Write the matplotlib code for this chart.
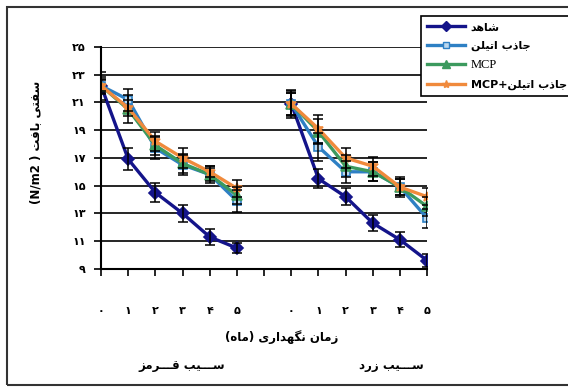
import numpy as np
import matplotlib.pyplot as plt
from matplotlib.lines import Line2D
from matplotlib.patches import Rectangle

# --- Persian text helper (matplotlib does no Arabic shaping) ---
FORMS = {
    'ا': ('\uFE8D', '\uFE8E', None, None),
    'ب': ('\uFE8F', '\uFE90', '\uFE91', '\uFE92'),
    'ت': ('\uFE95', '\uFE96', '\uFE97', '\uFE98'),
    'ج': ('\uFE9D', '\uFE9E', '\uFE9F', '\uFEA0'),
    'د': ('\uFEA9', '\uFEAA', None, None),
    'ذ': ('\uFEAB', '\uFEAC', None, None),
    'ر': ('\uFEAD', '\uFEAE', None, None),
    'ز': ('\uFEAF', '\uFEB0', None, None),
    'س': ('\uFEB1', '\uFEB2', '\uFEB3', '\uFEB4'),
    'ش': ('\uFEB5', '\uFEB6', '\uFEB7', '\uFEB8'),
    'ف': ('\uFED1', '\uFED2', '\uFED3', '\uFED4'),
    'ق': ('\uFED5', '\uFED6', '\uFED7', '\uFED8'),
    'ل': ('\uFEDD', '\uFEDE', '\uFEDF', '\uFEE0'),
    'م': ('\uFEE1', '\uFEE2', '\uFEE3', '\uFEE4'),
    'ن': ('\uFEE5', '\uFEE6', '\uFEE7', '\uFEE8'),
    'ه': ('\uFEE9', '\uFEEA', '\uFEEB', '\uFEEC'),
    'ی': ('\uFBFC', '\uFBFD', '\uFBFE', '\uFBFF'),
    'گ': ('\uFB92', '\uFB93', '\uFB94', '\uFB95'),
    'ـ': ('\u0640', '\u0640', '\u0640', '\u0640'),
}


def fa(text):
    out = []
    for i, c in enumerate(text):
        if c not in FORMS:
            out.append(c)
            continue
        prev = text[i - 1] if i > 0 else None
        nxt = text[i + 1] if i + 1 < len(text) else None
        jp = prev in FORMS and FORMS[prev][2] is not None
        jn = FORMS[c][2] is not None and nxt in FORMS
        f = FORMS[c]
        if jp and jn:
            out.append(f[3])
        elif jp:
            out.append(f[1])
        elif jn:
            out.append(f[2])
        else:
            out.append(f[0])
    vis = ''.join(reversed(out))
    return vis.translate(str.maketrans('()', ')('))


def fa_num(s):
    return str(s).translate(str.maketrans('0123456789', '۰۱۲۳۴۵۶۷۸۹'))


# --- data ---
months = [0, 1, 2, 3, 4, 5]
apples = ['ســـیب قـــرمز', 'ســـیب زرد']
series_names = ['شاهد', 'جاذب اتیلن', 'MCP', 'MCP+جاذب اتیلن']

# red apple
red_control = [22.2, 16.9, 14.5, 13.0, 11.3, 10.5]
red_absorb = [22.2, 21.2, 17.7, 16.5, 15.8, 13.9]
red_mcp = [22.2, 20.5, 17.9, 16.6, 15.8, 14.3]
red_both = [22.2, 20.6, 18.2, 17.0, 16.0, 14.8]
red_control_err = [1.0, 0.8, 0.7, 0.6, 0.55, 0.35]
red_absorb_err = [0.6, 0.8, 0.8, 0.7, 0.5, 0.8]
red_mcp_err = [0.5, 1.0, 0.7, 0.7, 0.6, 0.6]
red_both_err = [0.4, 0.6, 0.7, 0.7, 0.4, 0.6]

# yellow apple
yel_control = [20.9, 15.5, 14.2, 12.3, 11.1, 9.6]
yel_absorb = [20.9, 17.8, 16.0, 16.0, 14.9, 12.65]
yel_mcp = [20.9, 18.9, 16.4, 16.0, 14.9, 13.5]
yel_both = [20.9, 19.1, 17.0, 16.4, 14.9, 14.2]
yel_control_err = [1.0, 0.7, 0.6, 0.55, 0.55, 0.5]
yel_absorb_err = [0.8, 1.0, 0.8, 0.7, 0.7, 0.7]
yel_mcp_err = [0.8, 0.9, 0.8, 0.7, 0.6, 0.7]
yel_both_err = [0.9, 1.0, 0.7, 0.7, 0.6, 0.6]

yticks = [9, 11, 13, 15, 17, 19, 21, 23, 25]

colors = ['#14148a', '#2e80c4', '#3c9a5e', '#f08a3c']
markers = ['D', 's', '^', '*']
msizes = [6, 6, 7, 7]
mfaces = ['#14148a', '#bcd8ee', '#3c9a5e', '#f08a3c']

groups = [
    ([red_control, red_absorb, red_mcp, red_both],
     [red_control_err, red_absorb_err, red_mcp_err, red_both_err]),
    ([yel_control, yel_absorb, yel_mcp, yel_both],
     [yel_control_err, yel_absorb_err, yel_mcp_err, yel_both_err]),
]

plt.rcParams['font.family'] = ['DejaVu Sans']

fig = plt.figure(figsize=(5.68, 3.88), dpi=100)
ax = fig.add_axes([0.178, 0.307, 0.574, 0.572])

for g, (vals, errs) in enumerate(groups):
    x = np.arange(len(months)) + g * (len(months) + 1)
    for k in range(4):
        ax.plot(x, vals[k], color=colors[k], lw=2.4, marker=markers[k], ms=msizes[k],
                mfc=mfaces[k], mec=colors[k], mew=1.2, zorder=3 + k * 0.1)
        ax.errorbar(x, vals[k], yerr=errs[k], fmt='none', ecolor='black',
                    elinewidth=1.1, capsize=3.8, capthick=1.1, zorder=4)

ax.set_xlim(0, 2 * len(months))
ax.set_ylim(9, 25)

xlabels = [fa_num(m) for m in months] + [''] + [fa_num(m) for m in months]
ax.set_xticks(range(len(xlabels)))
ax.set_xticklabels(xlabels, fontsize=8, fontweight='bold')
ax.set_yticks(yticks)
ax.set_yticklabels([fa_num(v) for v in yticks], fontsize=8, fontweight='bold')
ax.tick_params(axis='x', direction='out', length=5, width=1.2, pad=22)
ax.tick_params(axis='y', direction='out', length=5, width=1.2, pad=6)

ax.grid(axis='y', color='black', lw=1.2)
ax.set_axisbelow(True)
for s in ['top', 'right']:
    ax.spines[s].set_visible(False)
for s in ['left', 'bottom']:
    ax.spines[s].set_linewidth(1.5)

# labels
fig.text(282 / 568, 1 - 337 / 388, fa('زمان نگهداری (ماه)'), ha='center', va='center',
         fontsize=8.5, fontweight='bold')
fig.text(182 / 568, 1 - 365 / 388, fa(apples[0]), ha='center', va='center',
         fontsize=8.5, fontweight='bold')
fig.text(391 / 568, 1 - 366 / 388, fa(apples[1]), ha='center', va='center',
         fontsize=8.5, fontweight='bold')
fig.text(36 / 568, 1 - 142 / 388, '(N/m2 ) ' + fa('سفتی بافت'), rotation=90,
         ha='center', va='center', fontsize=8.5, fontweight='bold')

# outer border
fig.patches.append(Rectangle((7 / 568, 3 / 388), 1.1, 1 - 10 / 388,
                             transform=fig.transFigure, fill=False,
                             edgecolor='#333333', lw=1.5, zorder=0))

# legend
handles = [Line2D([], [], color=colors[k], lw=2.4, marker=markers[k], ms=msizes[k] - 1,
                  mfc=mfaces[k], mec=colors[k]) for k in range(4)]
labels = [fa(series_names[0]), fa(series_names[1]), series_names[2],
          'MCP+' + fa('جاذب اتیلن')]
leg = fig.legend(handles, labels, loc='upper left',
                 bbox_to_anchor=(415 / 568, 1 - 10 / 388), bbox_transform=fig.transFigure,
                 fancybox=False, edgecolor='black', framealpha=1, fontsize=8,
                 handlelength=3.4, labelspacing=0.75, borderpad=0.6, handletextpad=0.5)
leg.get_frame().set_linewidth(1.2)
for t in leg.get_texts():
    t.set_fontweight('bold')
leg.get_texts()[2].set_fontfamily('Liberation Serif')
leg.get_texts()[2].set_fontweight('normal')
leg.get_texts()[2].set_fontsize(9)

fig.savefig('out.png', dpi=100)
